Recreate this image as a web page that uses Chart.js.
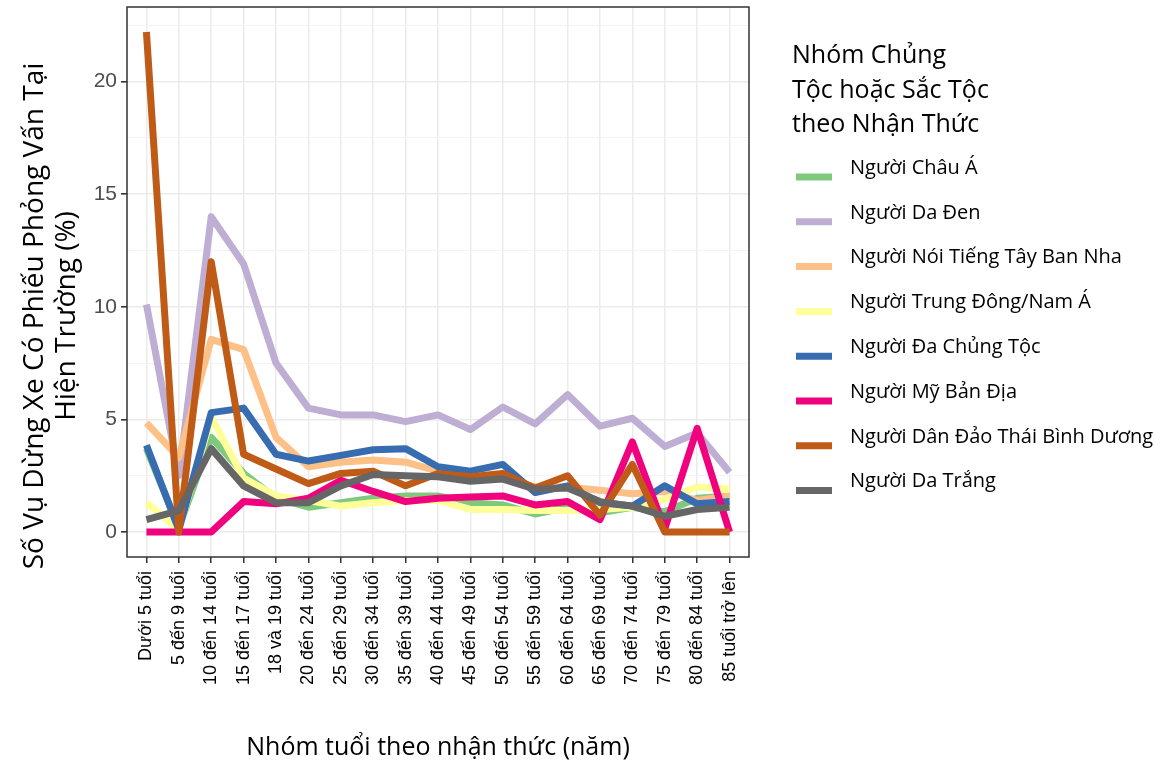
<!DOCTYPE html>
<html>
<head>
<meta charset="utf-8">
<script src="https://cdn.jsdelivr.net/npm/chart.js@4.4.0/dist/chart.umd.min.js"></script>
<style>
  html, body { margin: 0; padding: 0; background: #fff; }
  canvas { display: block; }
</style>
</head>
<body>
<canvas id="myChart" width="1154" height="765"></canvas>
<script>
const ageGroups = [
    "Dưới 5 tuổi", "5 đến 9 tuổi", "10 đến 14 tuổi", "15 đến 17 tuổi", "18 và 19 tuổi",
    "20 đến 24 tuổi", "25 đến 29 tuổi", "30 đến 34 tuổi", "35 đến 39 tuổi", "40 đến 44 tuổi",
    "45 đến 49 tuổi", "50 đến 54 tuổi", "55 đến 59 tuổi", "60 đến 64 tuổi", "65 đến 69 tuổi",
    "70 đến 74 tuổi", "75 đến 79 tuổi", "80 đến 84 tuổi", "85 tuổi trở lên"
]

const asian = [3.7, 0.2, 4.2, 2.6, 1.5, 1.1, 1.3, 1.5, 1.6, 1.6, 1.3, 1.2, 0.8, 1.1, 0.85, 1.1, 0.9, 1.5, 1.6]
const black = [10.1, 2.5, 14.0, 11.9, 7.5, 5.5, 5.2, 5.2, 4.9, 5.2, 4.55, 5.55, 4.8, 6.1, 4.7, 5.05, 3.8, 4.4, 2.65]
const hispanic = [4.85, 3.3, 8.55, 8.1, 4.2, 2.9, 3.1, 3.2, 3.1, 2.7, 2.4, 2.4, 2.0, 2.0, 1.85, 1.7, 1.8, 1.4, 1.6]
const middleEastSouthAsian = [1.3, 0.1, 5.1, 2.4, 1.6, 1.4, 1.15, 1.3, 1.4, 1.4, 1.0, 1.0, 0.95, 0.95, 1.0, 1.1, 1.45, 2.0, 1.9]
const multiracial = [3.85, 0.1, 5.3, 5.5, 3.45, 3.15, 3.4, 3.65, 3.7, 2.9, 2.7, 3.0, 1.75, 2.05, 1.3, 1.15, 2.05, 1.25, 1.35]
const nativeAmerican = [0, 0, 0, 1.35, 1.25, 1.5, 2.3, 1.8, 1.35, 1.5, 1.55, 1.6, 1.2, 1.35, 0.55, 4.0, 0.15, 4.6, 0]
const pacificIslander = [22.2, 0, 12.0, 3.45, 2.8, 2.15, 2.6, 2.7, 2.05, 2.6, 2.45, 2.6, 1.95, 2.5, 0.75, 3.0, 0, 0, 0]
const white = [0.55, 0.95, 3.7, 2.05, 1.3, 1.3, 2.05, 2.55, 2.5, 2.45, 2.25, 2.35, 1.9, 1.95, 1.35, 1.15, 0.7, 1.0, 1.1]

const seriesNames = [
    "Người Châu Á", "Người Da Đen", "Người Nói Tiếng Tây Ban Nha", "Người Trung Đông/Nam Á",
    "Người Đa Chủng Tộc", "Người Mỹ Bản Địa", "Người Dân Đảo Thái Bình Dương", "Người Da Trắng"
]
const seriesValues = [asian, black, hispanic, middleEastSouthAsian, multiracial, nativeAmerican, pacificIslander, white]
const seriesColors = ["#7fc97f", "#beaed4", "#fdc086", "#ffff99", "#386cb0", "#f0027f", "#bf5b17", "#666666"]

const yTicks = [0, 2.5, 5, 7.5, 10, 12.5, 15, 17.5, 20, 22.5]
const xTitle = "Nhóm tuổi theo nhận thức (năm)"
const yTitle = ["Số Vụ Dừng Xe Có Phiếu Phỏng Vấn Tại", "Hiện Trường (%)"]
const legendTitle = ["Nhóm Chủng", "Tộc hoặc Sắc Tộc", "theo Nhận Thức"]

const datasets = seriesValues.map((values, i) => ({
    label: seriesNames[i],
    data: values.map((v, k) => ({ x: k, y: v })),
    borderColor: seriesColors[i],
    backgroundColor: seriesColors[i],
    borderWidth: 7,
    borderJoinStyle: 'round',
    borderCapStyle: 'butt',
    pointRadius: 0,
    tension: 0,
    fill: false,
    order: seriesValues.length - i
}))

const isMajor = (v) => Math.abs(v % 5) < 1e-9

const decorations = {
    id: 'decorations',
    afterDatasetsDraw(chart) {
        const { ctx, chartArea } = chart
        ctx.save()
        ctx.strokeStyle = '#333333'
        ctx.lineWidth = 1.5
        ctx.strokeRect(chartArea.left, chartArea.top, chartArea.right - chartArea.left, chartArea.bottom - chartArea.top)
        ctx.restore()
    },
    afterDraw(chart) {
        const { ctx, chartArea } = chart
        ctx.save()
        ctx.fillStyle = '#000'
        ctx.textBaseline = 'middle'

        ctx.font = '25px "Open Sans"'
        ctx.textAlign = 'center'
        ctx.fillText(xTitle, (chartArea.left + chartArea.right) / 2, 748)

        ctx.save()
        ctx.font = '28px "Open Sans"'
        ctx.translate(35, 316)
        ctx.rotate(-Math.PI / 2)
        ctx.fillText(yTitle[0], 0, 0)
        ctx.fillText(yTitle[1], 0, 32)
        ctx.restore()

        ctx.textAlign = 'left'
        ctx.font = '25px "Open Sans"'
        legendTitle.forEach((t, i) => ctx.fillText(t, 792, 56 + i * 34.5))

        ctx.font = '20px "Open Sans"'
        chart.data.datasets.forEach((ds, i) => {
            const y = 168 + i * 44.8
            ctx.strokeStyle = ds.borderColor
            ctx.lineWidth = 7
            ctx.beginPath()
            ctx.moveTo(796, y + 9)
            ctx.lineTo(832, y + 9)
            ctx.stroke()
            ctx.fillText(ds.label, 850, y)
        })
        ctx.restore()
    }
}

new Chart(document.getElementById('myChart'), {
    type: 'line',
    data: { datasets: datasets },
    plugins: [decorations],
    options: {
        responsive: false,
        animation: false,
        layout: { padding: { left: 0, top: 7, right: 405, bottom: 0 } },
        plugins: {
            legend: { display: false },
            tooltip: { enabled: false }
        },
        scales: {
            x: {
                type: 'linear',
                min: -0.6,
                max: 18.6,
                afterBuildTicks: (scale) => {
                    scale.ticks = ageGroups.map((_, i) => ({ value: i }))
                },
                afterFit: (scale) => {
                    scale.height = 208
                    scale.paddingLeft = 0
                    scale.paddingRight = 0
                },
                border: { display: false },
                grid: {
                    color: '#ebebeb',
                    lineWidth: 1.5,
                    tickColor: '#333333',
                    tickLength: 6
                },
                ticks: {
                    autoSkip: false,
                    minRotation: 90,
                    maxRotation: 90,
                    padding: 8,
                    color: '#000',
                    font: { family: '"Liberation Sans", Arial', size: 18 },
                    callback: (v) => ageGroups[v]
                }
            },
            y: {
                min: -1.11,
                max: 23.31,
                afterBuildTicks: (scale) => {
                    scale.ticks = yTicks.map((v) => ({ value: v }))
                },
                afterFit: (scale) => {
                    scale.width = 127
                    scale.paddingTop = 0
                    scale.paddingBottom = 0
                },
                border: { display: false },
                grid: {
                    color: (c) => isMajor(c.tick.value) ? '#ebebeb' : '#f3f3f3',
                    lineWidth: (c) => isMajor(c.tick.value) ? 1.6 : 1,
                    tickColor: (c) => isMajor(c.tick.value) ? '#333333' : 'rgba(0,0,0,0)',
                    tickLength: 6
                },
                ticks: {
                    padding: 4,
                    color: '#4d4d4d',
                    font: { family: '"Liberation Sans", Arial', size: 21 },
                    callback: (v) => isMajor(v) ? String(v) : ''
                }
            }
        }
    }
})
</script>
</body>
</html>
